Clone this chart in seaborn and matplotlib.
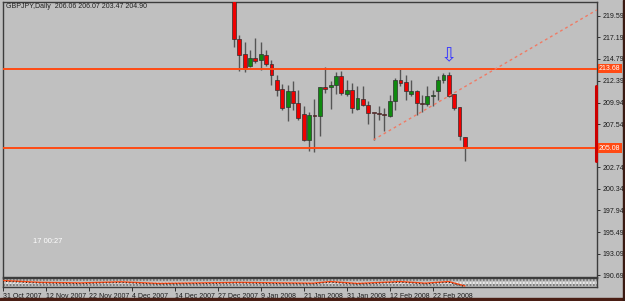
import matplotlib
matplotlib.use("Agg")
import matplotlib.pyplot as plt
import matplotlib.transforms as mtransforms
from matplotlib.patches import Rectangle
import seaborn as sns
import numpy as np
import pandas as pd

# ---------------- data ----------------
bar_index = list(range(43, 87))
opens = [223.30, 217.02, 215.35, 213.97, 214.90, 214.64, 215.27, 214.23, 212.48, 211.44,
         209.44, 211.18, 209.88, 208.69, 205.79, 208.50, 208.47, 211.63, 211.67, 211.92,
         212.93, 210.92, 211.37, 209.21, 210.33, 209.69, 208.82, 208.71, 208.60, 208.47,
         210.06, 212.40, 212.18, 210.92, 211.18, 209.84, 209.77, 210.67, 211.18, 212.40,
         213.04, 210.92, 209.39, 206.06]
highs = [223.90, 217.43, 216.64, 215.83, 217.14, 216.64, 215.83, 214.71, 213.04, 212.04,
         211.92, 212.29, 211.37, 209.58, 208.91, 210.33, 211.70, 213.88, 212.37, 213.37,
         213.49, 212.40, 212.11, 211.81, 211.81, 210.06, 208.82, 209.58, 209.32, 210.81,
         212.67, 213.68, 213.04, 212.40, 211.37, 210.81, 211.81, 211.37, 212.85, 213.23,
         213.30, 210.92, 209.47, 206.07]
lows = [216.13, 213.41, 213.30, 213.85, 214.35, 213.60, 213.97, 211.92, 210.62, 209.13,
        207.83, 209.13, 208.02, 205.60, 204.59, 204.48, 206.21, 211.03, 209.25, 210.92,
        210.81, 210.62, 208.77, 209.13, 209.50, 207.57, 205.79, 207.94, 206.71, 208.35,
        209.13, 211.73, 210.25, 210.62, 208.58, 208.83, 209.58, 209.50, 210.25, 212.11,
        210.55, 209.13, 205.79, 203.47]
closes = [217.02, 215.27, 213.68, 214.90, 214.60, 215.35, 214.27, 213.04, 211.37, 209.32,
          211.18, 209.84, 208.21, 205.79, 208.58, 208.47, 211.67, 211.48, 211.92, 212.93,
          211.00, 211.37, 209.32, 210.44, 209.69, 208.77, 208.73, 208.67, 208.55, 210.06,
          212.48, 212.11, 211.18, 211.18, 209.88, 209.78, 210.62, 210.72, 212.48, 213.04,
          210.70, 209.32, 206.16, 204.90]

date_tick_index = [0, 8, 16, 24, 32, 40, 48, 56, 64, 72, 80]
date_labels = ["31 Oct 2007", "12 Nov 2007", "22 Nov 2007", "4 Dec 2007", "14 Dec 2007",
               "27 Dec 2007", "9 Jan 2008", "21 Jan 2008", "31 Jan 2008", "12 Feb 2008",
               "22 Feb 2008"]
price_ticks = [219.59, 217.19, 214.79, 212.39, 209.94, 207.54, 202.74, 200.34, 197.94,
               195.49, 193.09, 190.69]

resistance_level = 213.71
support_level = 204.86
resistance_label = "213.68"
support_label = "205.08"
trend_start_index = 69
trend_start_price = 205.79
trend_slope = 0.348          # price per bar
arrow_index = 83
arrow_price = 215.15
marker_range = [203.40, 211.73]

ind_index = [0, 7, 14.4, 22, 29, 37, 44, 51.6, 57.7, 61, 66, 74, 78.6, 83, 86]
ind_values = [0.74, 0.53, 0.47, 0.59, 0.41, 0.47, 0.53, 0.47, 0.44, 0.62, 0.41, 0.62,
              0.44, 0.62, 0.12]

title_text = "GBPJPY,Daily  206.06 206.07 203.47 204.90"
clock_text = "17 00:27"

# ---------------- style ----------------
sns.set_theme(style="white")
plt.rcParams["font.family"] = ["Liberation Sans", "DejaVu Sans"]

BG = "#c0c0c0"
W, H = 625, 301
fig = plt.figure(figsize=(W / 100, H / 100), dpi=100, facecolor=BG)

x_max = 110.57
y_top, y_bot = 221.19, 190.47

def fx(px):
    return px / W

def fy(py):
    return 1 - py / H

ax = fig.add_axes([fx(2.7), fy(277.3), fx(597 - 2.7), fy(1.5) - fy(277.3)])
ax.set_facecolor(BG)
ax.set_xlim(0, x_max)
ax.set_ylim(y_bot, y_top)

df = pd.DataFrame({"idx": bar_index, "open": opens, "high": highs,
                   "low": lows, "close": closes})
df["up"] = df["close"] >= df["open"]

# wicks
ax.vlines(df["idx"], df["low"], df["high"], color="#555555", lw=1.0, zorder=2)
# bodies
body_bottom = np.minimum(df["open"], df["close"])
body_height = np.maximum(np.abs(df["close"] - df["open"]), 0.12)
colors = np.where(df["up"], "#0f8a0f", "#f00000")
ax.bar(df["idx"], body_height, bottom=body_bottom, width=0.72, color=colors,
       edgecolor="#303030", linewidth=0.5, zorder=3)

# horizontal lines
for lvl in (resistance_level, support_level):
    ax.axhline(lvl, color="#ff4a14", lw=1.4, zorder=4)

# trend line (ray)
tx = np.array([trend_start_index, x_max])
ty = trend_start_price + trend_slope * (tx - trend_start_index)
ax.plot(tx, ty, color="#f07a64", lw=1.0, ls=(0, (2, 2.2)), zorder=4)

# arrow
ax.text(arrow_index, arrow_price, "\u21e9", color="#3a3aff", fontsize=14,
        family="DejaVu Sans", ha="center", va="center", zorder=5)

# red marker bar at right edge
ax.plot([x_max - 0.15, x_max - 0.15], marker_range, color="#cc0000", lw=2.2,
        clip_on=False, zorder=6)

# spines
for s in ax.spines.values():
    s.set_color("#3c3c3c")
    s.set_linewidth(1.0)

ax.set_xticks([])
ax.yaxis.tick_right()
ax.set_yticks(price_ticks)
ax.set_yticklabels([f"{p:.2f}" for p in price_ticks])
ax.tick_params(axis="y", direction="out", length=2.5, width=0.7, color="#303030",
               labelsize=5.0, labelcolor="#1a1a1a", pad=1.5, right=True, left=False)
ax.grid(False)

# boxed level labels
trans = mtransforms.blended_transform_factory(ax.transAxes, ax.transData)
for lvl, lab in ((resistance_level, resistance_label), (support_level, support_label)):
    ax.text(1.0035, lvl, lab, transform=trans, fontsize=5.0, color="white",
            va="center", ha="left", zorder=7,
            bbox=dict(boxstyle="square,pad=0.18", fc="#ff4a14", ec="none"))

# indicator strip
ax2 = fig.add_axes([fx(2.7), fy(287), fx(597 - 2.7), fy(278.3) - fy(287)])
ax2.set_facecolor(BG)
ax2.set_xlim(0, x_max)
ax2.set_ylim(0, 1)
for yy, col in ((0.2, "#707070"), (0.5, "#f2f2f2"), (0.8, "#707070")):
    ax2.axhline(yy, color=col, lw=1.2, ls=(0, (1, 1)), zorder=1)
ind_df = pd.DataFrame({"idx": ind_index, "val": ind_values})
sns.lineplot(data=ind_df, x="idx", y="val", ax=ax2, color="#ff4a14", lw=1.0,
             zorder=3, legend=False)
ax2.plot(ind_index, np.array(ind_values) - 0.08, color="#202020", lw=0.8,
         ls=(0, (1, 2)), zorder=3)
for s in ax2.spines.values():
    s.set_color("#3c3c3c")
    s.set_linewidth(1.0)
ax2.set_yticks([])
ax2.set_ylabel("")
ax2.set_xlabel("")
ax2.set_xticks(date_tick_index)
ax2.set_xticklabels(date_labels)
ax2.tick_params(axis="x", direction="out", length=3, width=0.7, color="#303030",
                labelsize=5.0, labelcolor="#1a1a1a", pad=1.0, bottom=True)
for lbl in ax2.get_xticklabels():
    lbl.set_ha("left")
ax2.grid(False)

# texts
fig.text(fx(5.5), fy(7), title_text, fontsize=5.0, color="#202020", va="center",
         ha="left")
fig.text(fx(33), fy(241.7), clock_text, fontsize=5.4, color="white", va="center",
         ha="left")

# window frame
fig.patches.append(Rectangle((0, 0), 1, 3.5 / H, transform=fig.transFigure,
                             color="#4a1e14", zorder=10))
fig.patches.append(Rectangle((622.5 / W, 0), 2.5 / W, 1, transform=fig.transFigure,
                             color="#3a1a12", zorder=10))

fig.savefig("out.png", dpi=100, facecolor=BG)
